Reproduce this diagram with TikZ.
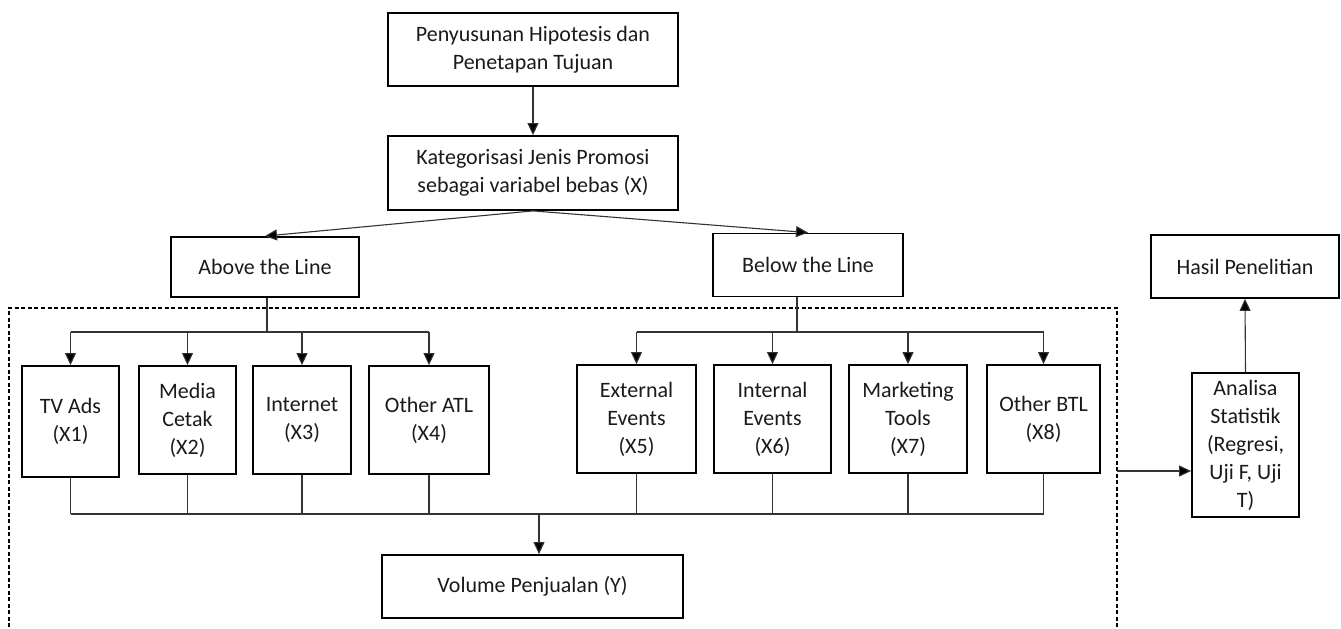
\documentclass[tikz,border=0pt]{standalone}
\usepackage{fontspec}
\setmainfont{Carlito}
\usetikzlibrary{arrows.meta,calc}
\definecolor{txt}{HTML}{1A1A1A}
\definecolor{conn}{HTML}{333333}
\tikzset{
  box/.style={draw=black, line width=1.8pt, align=center, inner sep=0pt,
    text=txt, font=\fontsize{22}{28}\selectfont},
  conline/.style={draw=conn, line width=1.1pt},
  arr/.style={conline, -{Triangle[length=12pt,width=11pt,fill=black]}},
  dashbox/.style={draw=black, line width=1.5pt, dash pattern=on 4pt off 2.5pt}
}
\begin{document}
\begin{tikzpicture}[x=1pt,y=-1pt]
\useasboundingbox (0,0) rectangle (1341,629);
% dashed frame
\draw[dashbox] (9,640) -- (9,308) -- (1117,308) -- (1117,640);
% nodes
\node[box, minimum width=290, minimum height=73] (hyp) at (533,49.5) {Penyusunan Hipotesis dan\\Penetapan Tujuan};
\node[box, minimum width=290, minimum height=74] (kat) at (533,173) {Kategorisasi Jenis Promosi\\sebagai variabel bebas (X)};
\node[box, minimum width=188, minimum height=60] (atl) at (265,267) {Above the Line};
\node[box, minimum width=190, minimum height=63] (btl) at (808,265) {Below the Line};
\node[box, minimum width=188, minimum height=63] (hasil) at (1245,266.5) {Hasil Penelitian};
\node[box, minimum width=97, minimum height=111] (x1) at (70.5,421.5) {TV Ads\\(X1)};
\node[box, minimum width=97, minimum height=108] (x2) at (187.5,420) {Media\\Cetak\\(X2)};
\node[box, minimum width=98, minimum height=108] (x3) at (302,420) {Internet\\(X3)};
\node[box, minimum width=120, minimum height=108] (x4) at (429,420) {Other ATL\\(X4)};
\node[box, minimum width=119, minimum height=108] (x5) at (636.5,419) {External\\Events\\(X5)};
\node[box, minimum width=117, minimum height=108] (x6) at (772.5,419) {Internal\\Events\\(X6)};
\node[box, minimum width=118, minimum height=108] (x7) at (908,419) {Marketing\\Tools\\(X7)};
\node[box, minimum width=113, minimum height=108] (x8) at (1043.5,419) {Other BTL\\(X8)};
\node[box, minimum width=301, minimum height=63] (vol) at (532.5,586.5) {Volume Penjualan (Y)};
\node[box, minimum width=107, minimum height=144] (ana) at (1245.5,445) {Analisa\\Statistik\\(Regresi,\\Uji F, Uji\\T)};
% top connectors
\draw[arr] (hyp.south) -- (kat.north);
\draw[arr] (kat.south) -- (atl.north);
\draw[arr] (kat.south) -- (btl.north);
% ATL branch
\coordinate (astem) at (267,332);
\draw[conline] (astem |- atl.south) -- (astem);
\draw[conline] (x1.north |- astem) -- (x4.north |- astem);
\foreach \n in {x1,x2,x3,x4} \draw[arr] (\n.north |- astem) -- (\n.north);
% BTL branch
\coordinate (bstem) at (797,332);
\draw[conline] (bstem |- btl.south) -- (bstem);
\draw[conline] (x5.north |- bstem) -- (x8.north |- bstem);
\foreach \n in {x5,x6,x7,x8} \draw[arr] (\n.north |- bstem) -- (\n.north);
% bottom bus
\coordinate (bus) at (539,514);
\foreach \n in {x1,x2,x3,x4,x5,x6,x7,x8} \draw[conline] (\n.south) -- (\n.south |- bus);
\draw[conline] (x1.south |- bus) -- (x8.south |- bus);
\draw[arr] (bus) -- (bus |- vol.north);
% right side
\coordinate (dr) at (1117,471);
\draw[arr] (dr) -- (dr -| ana.west);
\draw[arr] (ana.north) -- (hasil.south);
\end{tikzpicture}
\end{document}
